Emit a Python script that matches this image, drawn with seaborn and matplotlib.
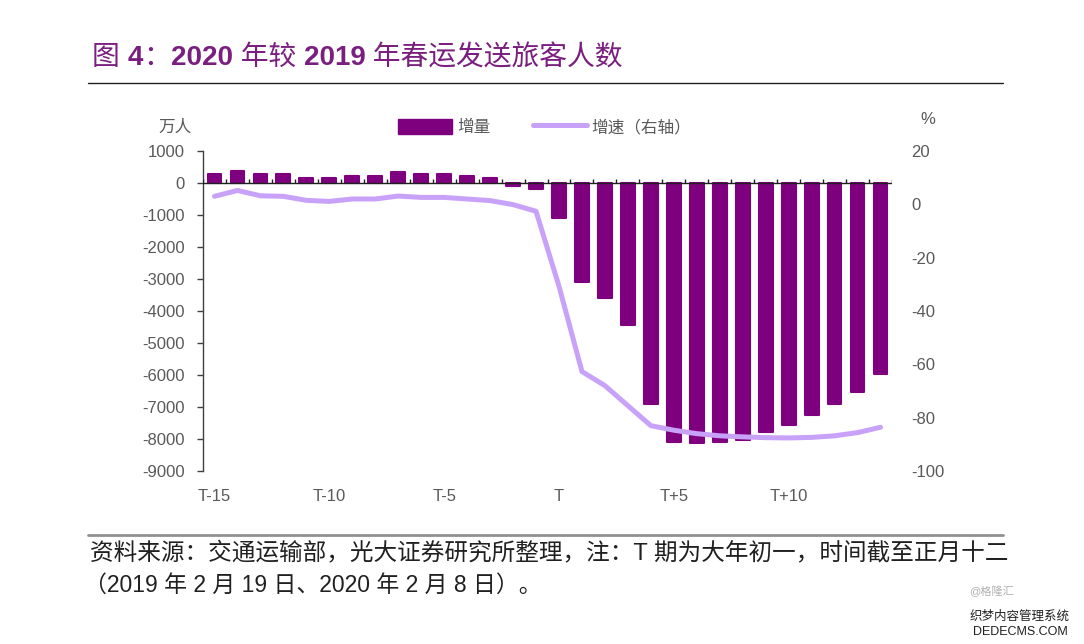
import numpy as np
import seaborn as sns
import matplotlib.pyplot as plt
from matplotlib.lines import Line2D
from matplotlib.patches import Patch

days = ['T-15', 'T-14', 'T-13', 'T-12', 'T-11', 'T-10', 'T-9', 'T-8', 'T-7', 'T-6',
        'T-5', 'T-4', 'T-3', 'T-2', 'T-1', 'T', 'T+1', 'T+2', 'T+3', 'T+4',
        'T+5', 'T+6', 'T+7', 'T+8', 'T+9', 'T+10', 'T+11', 'T+12', 'T+13', 'T+14']
# 增量 (万人)
increase = [290, 390, 290, 290, 160, 160, 230, 230, 340, 290,
            290, 230, 160, -100, -200, -1080, -3080, -3580, -4430, -6900,
            -8080, -8140, -8080, -8020, -7780, -7550, -7240, -6900, -6520, -5960]
# 增速 (%)
growth = [3.0, 5.2, 3.2, 3.0, 1.5, 1.1, 2.0, 2.0, 3.1, 2.6,
          2.6, 2.0, 1.4, -0.1, -2.6, -30.7, -62.7, -68.0, -75.5, -83.0,
          -84.7, -86.0, -86.8, -87.2, -87.5, -87.6, -87.4, -86.8, -85.6, -83.6]
left_ticks = [1000, 0, -1000, -2000, -3000, -4000, -5000, -6000, -7000, -8000, -9000]
right_ticks = [20, 0, -20, -40, -60, -80, -100]

bar_color = '#7F007F'
line_color = '#C8A2F8'
title_color = '#7A1F7F'
grey = '#595959'

sns.set_style('white')
plt.rcParams['font.family'] = ['Liberation Sans', 'Noto Sans CJK SC']
plt.rcParams['axes.unicode_minus'] = False

fig = plt.figure(figsize=(10.84, 6.44), dpi=100)
ax = fig.add_axes([203 / 1084, 1 - 471 / 644, 689 / 1084, 320 / 644])

sns.barplot(x=days, y=increase, ax=ax, color=bar_color, width=0.6,
            saturation=1, edgecolor=bar_color, linewidth=1.5)
for p in ax.patches:
    p.set_joinstyle('round')

ax.set_ylim(-9000, 1000)
ax.set_xlim(-0.5, len(days) - 0.5)
ax.set_yticks(left_ticks)
ax.set_yticklabels([str(v) for v in left_ticks])
ax.set_xticks(range(0, len(days), 5))
ax.set_xticklabels(days[::5])
ax.set_xlabel('')
ax.set_ylabel('')
ax.tick_params(axis='x', length=0, pad=13, labelsize=12, labelcolor=grey)
ax.tick_params(axis='y', left=True, direction='out', length=4, width=1,
               color='#404040', pad=9, labelsize=12, labelcolor=grey)
for s in ['top', 'right', 'bottom']:
    ax.spines[s].set_visible(False)
ax.spines['left'].set_color('#404040')
ax.spines['left'].set_linewidth(1)

# zero line with category tick marks
ax.axhline(0, color='#202020', lw=1, zorder=3)
ax.vlines(np.arange(len(days) + 1) - 0.5, 0, 110, color='#202020', lw=1, zorder=3)

ax2 = ax.twinx()
sns.lineplot(x=np.arange(len(days)), y=growth, ax=ax2, color=line_color,
             lw=3.6, solid_capstyle='round')
ax2.set_ylim(-100, 20)
ax2.set_yticks(right_ticks)
ax2.set_yticklabels([str(v) for v in right_ticks])
ax2.set_ylabel('')
ax2.tick_params(axis='y', length=0, pad=14, labelsize=12, labelcolor=grey)
for s in ['top', 'right', 'bottom', 'left']:
    ax2.spines[s].set_visible(False)

fig.text(175 / 1084, 1 - 127 / 644, '万人', fontsize=12, color=grey, ha='center', va='center')
fig.text(928 / 1084, 1 - 120 / 644, '%', fontsize=12, color=grey, ha='center', va='center')

handles = [Patch(facecolor=bar_color, edgecolor=bar_color),
           Line2D([0], [0], color=line_color, lw=3.6)]
fig.legend(handles, ['增量', '增速（右轴）'], loc='center', ncol=2,
           bbox_to_anchor=(545 / 1084, 1 - 127 / 644), frameon=False,
           fontsize=12, labelcolor=grey, handlelength=3.2, handleheight=1.0,
           handletextpad=0.3, columnspacing=2.6)

# title: Chinese regular, digits bold
renderer = fig.canvas.get_renderer()
title_parts = [('图 ', 'normal'), ('4', 'bold'), ('：', 'normal'), ('2020', 'bold'),
               (' 年较 ', 'normal'), ('2019', 'bold'), (' 年春运发送旅客人数', 'normal')]
x_px = 92
for part, weight in title_parts:
    t = fig.text(x_px / 1084, 1 - 58 / 644, part, fontsize=20, color=title_color,
                 ha='left', va='center', fontweight=weight)
    x_px += t.get_window_extent(renderer).width

fig.add_artist(Line2D([88 / 1084, 1003 / 1084], [1 - 83 / 644, 1 - 83 / 644],
                      color='#202020', lw=1))
fig.add_artist(Line2D([88 / 1084, 1003 / 1084], [1 - 535 / 644, 1 - 535 / 644],
                      color='#909090', lw=2))

fig.text(90 / 1084, 1 - 554 / 644,
         '资料来源：交通运输部，光大证券研究所整理，注：T 期为大年初一，时间截至正月十二',
         fontsize=17, color='#202020', ha='left', va='center')
fig.text(84 / 1084, 1 - 585 / 644, '（2019 年 2 月 19 日、2020 年 2 月 8 日）。',
         fontsize=16.5, color='#202020', ha='left', va='center')
fig.text(992 / 1084, 1 - 591 / 644, '@格隆汇', fontsize=8, color='#b0b0b0',
         ha='center', va='center')
fig.text(1020 / 1084, 1 - 617 / 644, '织梦内容管理系统', fontsize=9, color='#202020',
         ha='center', va='center')
fig.text(1020 / 1084, 1 - 632 / 644, 'DEDECMS.COM', fontsize=9, color='#202020',
         ha='center', va='center')

fig.savefig('out.png', dpi=100)
